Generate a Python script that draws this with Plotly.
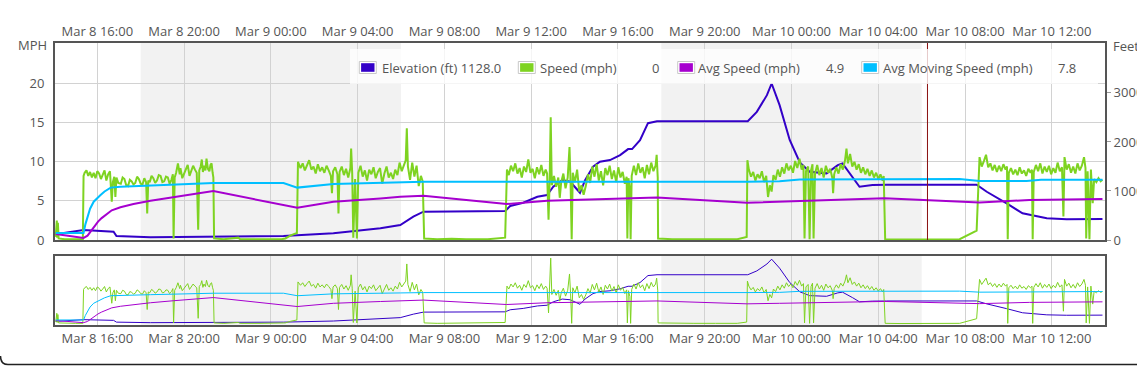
import plotly.graph_objects as go

# ---------------- data ----------------
elev_time = [
    "03-08 14:05", "03-08 15:22", "03-08 16:45", "03-08 16:53", "03-08 18:27", "03-08 21:21",
    "03-09 00:35", "03-09 02:53", "03-09 05:03", "03-09 05:58", "03-09 06:34", "03-09 07:02",
    "03-09 10:48", "03-09 11:02", "03-09 11:38", "03-09 12:17", "03-09 12:44", "03-09 13:01",
    "03-09 13:26", "03-09 13:48", "03-09 14:15", "03-09 14:29", "03-09 14:51", "03-09 15:10",
    "03-09 15:38", "03-09 16:06", "03-09 16:28", "03-09 16:39", "03-09 17:01", "03-09 17:23",
    "03-09 17:48", "03-09 21:59", "03-09 22:24", "03-09 22:52", "03-09 23:05", "03-09 23:27",
    "03-09 23:55", "03-10 00:23", "03-10 00:50", "03-10 01:37", "03-10 02:08", "03-10 02:21",
    "03-10 02:49", "03-10 03:08", "03-10 03:44", "03-10 04:23", "03-10 08:32", "03-10 09:00",
    "03-10 09:55", "03-10 10:39", "03-10 11:46", "03-10 12:41", "03-10 14:20",
]
elev_ft = [
    120, 204, 170, 82, 55, 61,
    82, 136, 238, 305, 475, 577,
    591, 693, 760, 882, 917, 1086,
    1222, 1188, 963, 1222, 1493, 1595,
    1630, 1731, 1854, 1854, 2037, 2383,
    2424, 2424, 2613, 2954, 3192, 2750,
    2040, 1580, 1391, 1359, 1528, 1562,
    1289, 1086, 1120, 1128, 1128, 984,
    748, 544, 442, 422, 428,
]

speed_time = [
    "03-08 14:05", "03-08 14:08", "03-08 14:09", "03-08 14:11", "03-08 14:13", "03-08 14:30", "03-08 15:00", "03-08 15:20", "03-08 15:22", "03-08 15:25",
    "03-08 15:30", "03-08 15:35", "03-08 15:40", "03-08 15:45", "03-08 15:50", "03-08 15:55", "03-08 16:00", "03-08 16:05", "03-08 16:10", "03-08 16:15",
    "03-08 16:20", "03-08 16:25", "03-08 16:30", "03-08 16:35", "03-08 16:40", "03-08 16:43", "03-08 16:47", "03-08 16:50", "03-08 16:53", "03-08 16:58",
    "03-08 17:05", "03-08 17:10", "03-08 17:15", "03-08 17:20", "03-08 17:25", "03-08 17:30", "03-08 17:35", "03-08 17:40", "03-08 17:45", "03-08 17:50",
    "03-08 17:55", "03-08 18:00", "03-08 18:05", "03-08 18:10", "03-08 18:15", "03-08 18:18", "03-08 18:21", "03-08 18:25", "03-08 18:30", "03-08 18:35",
    "03-08 18:40", "03-08 18:45", "03-08 18:50", "03-08 18:55", "03-08 19:00", "03-08 19:05", "03-08 19:10", "03-08 19:15", "03-08 19:20", "03-08 19:25",
    "03-08 19:29", "03-08 19:31", "03-08 19:34", "03-08 19:38", "03-08 19:43", "03-08 19:48", "03-08 19:50", "03-08 19:55", "03-08 20:00", "03-08 20:05",
    "03-08 20:10", "03-08 20:15", "03-08 20:20", "03-08 20:25", "03-08 20:30", "03-08 20:35", "03-08 20:39", "03-08 20:42", "03-08 20:46", "03-08 20:49",
    "03-08 20:52", "03-08 20:55", "03-08 20:59", "03-08 21:02", "03-08 21:06", "03-08 21:10", "03-08 21:13", "03-08 21:16", "03-08 21:19", "03-08 21:21",
    "03-08 21:23", "03-08 21:50", "03-08 22:30", "03-08 22:35", "03-08 23:30", "03-09 00:30", "03-09 00:40", "03-09 00:55", "03-09 01:12", "03-09 01:15",
    "03-09 01:22", "03-09 01:28", "03-09 01:34", "03-09 01:40", "03-09 01:46", "03-09 01:52", "03-09 01:58", "03-09 02:04", "03-09 02:10", "03-09 02:16",
    "03-09 02:22", "03-09 02:28", "03-09 02:34", "03-09 02:40", "03-09 02:46", "03-09 02:49", "03-09 02:52", "03-09 02:58", "03-09 03:04", "03-09 03:07",
    "03-09 03:10", "03-09 03:16", "03-09 03:22", "03-09 03:28", "03-09 03:34", "03-09 03:40", "03-09 03:42", "03-09 03:45", "03-09 03:48", "03-09 03:53",
    "03-09 03:58", "03-09 04:02", "03-09 04:08", "03-09 04:14", "03-09 04:20", "03-09 04:26", "03-09 04:32", "03-09 04:38", "03-09 04:44", "03-09 04:50",
    "03-09 04:56", "03-09 05:02", "03-09 05:08", "03-09 05:14", "03-09 05:20", "03-09 05:26", "03-09 05:32", "03-09 05:38", "03-09 05:44", "03-09 05:50",
    "03-09 05:56", "03-09 06:02", "03-09 06:08", "03-09 06:13", "03-09 06:16", "03-09 06:19", "03-09 06:25", "03-09 06:31", "03-09 06:37", "03-09 06:43",
    "03-09 06:49", "03-09 06:55", "03-09 07:00", "03-09 07:02", "03-09 07:04", "03-09 07:40", "03-09 08:20", "03-09 09:00", "03-09 10:00", "03-09 10:48",
    "03-09 10:53", "03-09 10:58", "03-09 11:04", "03-09 11:10", "03-09 11:16", "03-09 11:22", "03-09 11:28", "03-09 11:34", "03-09 11:40", "03-09 11:46",
    "03-09 11:52", "03-09 11:58", "03-09 12:04", "03-09 12:10", "03-09 12:16", "03-09 12:22", "03-09 12:28", "03-09 12:34", "03-09 12:40", "03-09 12:44",
    "03-09 12:48", "03-09 12:51", "03-09 12:54", "03-09 12:57", "03-09 13:03", "03-09 13:09", "03-09 13:15", "03-09 13:19", "03-09 13:23", "03-09 13:29",
    "03-09 13:35", "03-09 13:41", "03-09 13:46", "03-09 13:49", "03-09 13:52", "03-09 13:55", "03-09 14:01", "03-09 14:07", "03-09 14:13", "03-09 14:19",
    "03-09 14:25", "03-09 14:31", "03-09 14:37", "03-09 14:43", "03-09 14:49", "03-09 14:55", "03-09 15:01", "03-09 15:07", "03-09 15:13", "03-09 15:19",
    "03-09 15:25", "03-09 15:31", "03-09 15:37", "03-09 15:43", "03-09 15:49", "03-09 15:55", "03-09 16:01", "03-09 16:07", "03-09 16:13", "03-09 16:19",
    "03-09 16:24", "03-09 16:26", "03-09 16:29", "03-09 16:33", "03-09 16:35", "03-09 16:38", "03-09 16:44", "03-09 16:50", "03-09 16:56", "03-09 17:02",
    "03-09 17:08", "03-09 17:14", "03-09 17:20", "03-09 17:26", "03-09 17:32", "03-09 17:38", "03-09 17:44", "03-09 17:47", "03-09 17:50", "03-09 17:51",
    "03-09 18:30", "03-09 19:30", "03-09 20:30", "03-09 21:30", "03-09 21:56", "03-09 21:58", "03-09 22:02", "03-09 22:08", "03-09 22:14", "03-09 22:20",
    "03-09 22:26", "03-09 22:32", "03-09 22:38", "03-09 22:44", "03-09 22:50", "03-09 22:55", "03-09 23:00", "03-09 23:05", "03-09 23:10", "03-09 23:16",
    "03-09 23:22", "03-09 23:28", "03-09 23:34", "03-09 23:40", "03-09 23:46", "03-09 23:52", "03-09 23:58", "03-10 00:04", "03-10 00:10", "03-10 00:16",
    "03-10 00:22", "03-10 00:28", "03-10 00:33", "03-10 00:36", "03-10 00:40", "03-10 00:46", "03-10 00:50", "03-10 00:54", "03-10 00:58", "03-10 01:01",
    "03-10 01:05", "03-10 01:11", "03-10 01:17", "03-10 01:23", "03-10 01:29", "03-10 01:35", "03-10 01:41", "03-10 01:47", "03-10 01:53", "03-10 01:55",
    "03-10 01:58", "03-10 02:04", "03-10 02:10", "03-10 02:16", "03-10 02:22", "03-10 02:28", "03-10 02:32", "03-10 02:36", "03-10 02:42", "03-10 02:48",
    "03-10 02:54", "03-10 03:00", "03-10 03:06", "03-10 03:12", "03-10 03:18", "03-10 03:24", "03-10 03:30", "03-10 03:36", "03-10 03:42", "03-10 03:48",
    "03-10 03:54", "03-10 04:00", "03-10 04:06", "03-10 04:12", "03-10 04:15", "03-10 04:17", "03-10 04:19", "03-10 05:00", "03-10 06:16", "03-10 07:00",
    "03-10 07:45", "03-10 08:32", "03-10 08:40", "03-10 08:46", "03-10 08:52", "03-10 08:58", "03-10 09:04", "03-10 09:10", "03-10 09:16", "03-10 09:22",
    "03-10 09:28", "03-10 09:34", "03-10 09:40", "03-10 09:46", "03-10 09:52", "03-10 09:56", "03-10 09:58", "03-10 10:01", "03-10 10:07", "03-10 10:13",
    "03-10 10:19", "03-10 10:25", "03-10 10:31", "03-10 10:37", "03-10 10:43", "03-10 10:49", "03-10 10:55", "03-10 11:01", "03-10 11:05", "03-10 11:07",
    "03-10 11:10", "03-10 11:16", "03-10 11:22", "03-10 11:28", "03-10 11:34", "03-10 11:40", "03-10 11:46", "03-10 11:52", "03-10 11:58", "03-10 12:04",
    "03-10 12:10", "03-10 12:16", "03-10 12:22", "03-10 12:28", "03-10 12:32", "03-10 12:35", "03-10 12:41", "03-10 12:47", "03-10 12:53", "03-10 12:59",
    "03-10 13:05", "03-10 13:11", "03-10 13:17", "03-10 13:23", "03-10 13:29", "03-10 13:33", "03-10 13:35", "03-10 13:39", "03-10 13:44", "03-10 13:48",
    "03-10 13:53", "03-10 13:57", "03-10 14:03", "03-10 14:09", "03-10 14:15", "03-10 14:20",
]
speed_mph = [
    0.4, 2.5, 0.3, 2.2, 0.2, 0.1, 0.1, 0.1, 8.2, 8.6,
    8.9, 8.2, 8.7, 8.0, 8.6, 7.9, 8.8, 8.5, 7.8, 8.3,
    8.9, 7.6, 8.4, 8.8, 4.9, 7.4, 8.1, 5.5, 8.0, 7.3,
    7.2, 8.0, 7.8, 7.0, 6.9, 7.7, 7.5, 7.1, 7.3, 8.1,
    7.8, 7.2, 7.1, 7.9, 7.4, 3.4, 7.6, 7.4, 8.2, 7.9,
    7.3, 7.6, 8.3, 8.2, 7.4, 7.5, 8.1, 8.0, 7.2, 7.7,
    8.4, 0.2, 8.0, 8.6, 9.8, 8.4, 9.2, 7.9, 8.4, 9.1,
    9.6, 8.2, 8.8, 9.5, 9.0, 8.6, 1.3, 8.9, 9.4, 10.3,
    8.7, 9.5, 8.9, 10.4, 9.1, 8.8, 9.6, 9.8, 8.6, 8.0,
    0.2, 0.1, 0.3, 0.1, 0.1, 0.1, 0.2, 0.6, 0.9, 10.0,
    9.2, 9.8, 8.9, 9.6, 10.2, 9.0, 9.4, 8.5, 9.7, 8.8,
    9.3, 8.6, 9.5, 8.9, 8.2, 6.0, 8.8, 9.3, 8.4, 3.4,
    8.7, 9.4, 8.3, 9.1, 8.0, 9.2, 11.7, 8.5, 0.3, 7.8,
    0.2, 8.6, 9.5, 8.1, 8.9, 7.6, 9.0, 8.4, 9.3, 7.9,
    8.7, 9.2, 7.2, 8.5, 9.4, 8.0, 8.6, 7.8, 9.0, 8.3,
    9.9, 8.8, 9.6, 10.2, 14.3, 9.4, 7.7, 9.9, 8.1, 9.5,
    6.9, 8.2, 7.5, 0.3, 0.2, 0.1, 0.15, 0.1, 0.1, 0.3,
    9.0, 8.3, 9.5, 8.8, 9.8, 8.5, 9.2, 8.0, 9.4, 8.7,
    10.3, 8.6, 9.1, 7.9, 9.3, 8.4, 9.6, 8.2, 9.0, 8.5,
    2.6, 7.5, 15.7, 7.0, 8.2, 6.8, 8.0, 5.4, 7.4, 8.5,
    6.6, 8.0, 11.9, 7.2, 0.1, 8.6, 7.4, 9.0, 6.2, 7.0,
    5.8, 6.9, 8.4, 7.3, 9.4, 8.1, 9.7, 7.6, 8.8, 7.0,
    9.2, 8.3, 9.5, 7.8, 8.9, 7.4, 9.3, 8.0, 8.7, 7.2,
    8.1, 0.2, 7.9, 6.5, 0.1, 8.2, 9.5, 8.3, 9.8, 8.6,
    9.3, 7.9, 9.6, 8.4, 9.9, 8.8, 9.5, 10.9, 8.0, 0.2,
    0.1, 0.1, 0.1, 0.1, 0.4, 10.2, 9.0, 8.1, 8.7, 7.6,
    8.4, 7.9, 8.8, 7.4, 8.2, 5.5, 7.0, 6.2, 8.3, 7.7,
    9.0, 8.1, 9.3, 8.5, 9.8, 8.9, 9.5, 8.6, 10.1, 9.2,
    10.4, 9.0, 9.6, 0.2, 8.8, 9.4, 0.1, 8.9, 9.7, 0.2,
    8.5, 9.6, 8.3, 9.2, 8.0, 9.5, 8.6, 9.1, 7.9, 6.0,
    8.4, 9.3, 8.5, 9.7, 9.0, 10.2, 11.7, 9.8, 11.0, 9.4,
    10.0, 9.0, 9.7, 8.6, 9.3, 8.4, 9.1, 8.2, 8.9, 8.0,
    8.6, 7.8, 8.4, 7.6, 8.2, 0.2, 0.1, 0.05, 0.0, 0.05,
    0.1, 1.2, 10.6, 9.4, 10.1, 10.9, 9.3, 9.8, 8.9, 9.6,
    8.7, 9.5, 8.8, 9.7, 9.0, 9.4, 0.1, 8.6, 9.2, 8.4,
    9.0, 8.3, 9.3, 8.5, 8.9, 8.2, 9.1, 8.6, 9.0, 0.1,
    8.7, 9.6, 8.8, 9.8, 8.5, 9.4, 8.7, 9.5, 8.4, 9.2,
    8.6, 9.9, 8.8, 9.3, 3.0, 10.6, 9.0, 9.7, 8.6, 9.4,
    8.5, 9.8, 8.9, 9.5, 10.6, 9.2, 0.2, 8.8, 0.1, 9.0,
    4.7, 7.8, 7.4, 7.9, 7.5, 7.7,
]

avg_time = [
    "03-08 14:05", "03-08 15:22", "03-08 15:33", "03-08 15:42", "03-08 15:52", "03-08 16:02",
    "03-08 16:12", "03-08 16:25", "03-08 16:40", "03-08 17:04", "03-08 17:40", "03-08 18:27",
    "03-08 19:30", "03-08 20:30", "03-08 21:21", "03-09 01:13", "03-09 02:53", "03-09 05:03",
    "03-09 05:58", "03-09 07:02", "03-09 10:52", "03-09 12:44", "03-09 17:48", "03-09 21:57",
    "03-09 23:27", "03-10 04:17", "03-10 08:40", "03-10 10:58", "03-10 14:20",
]
avg_mph = [
    0.77, 0.26, 0.55, 1.15, 1.8, 2.35,
    2.8, 3.3, 3.8, 4.18, 4.6, 5.02,
    5.5, 5.95, 6.26, 4.12, 4.89, 5.32,
    5.53, 5.66, 4.6, 5.02, 5.45, 4.76,
    4.89, 5.33, 4.81, 5.11, 5.24,
]

moving_time = [
    "03-08 14:05", "03-08 15:22", "03-08 15:27", "03-08 15:33", "03-08 15:40", "03-08 15:50",
    "03-08 16:00", "03-08 16:09", "03-08 16:20", "03-08 16:37", "03-08 17:04", "03-08 18:27",
    "03-08 21:21", "03-09 00:35", "03-09 01:13", "03-09 02:53", "03-09 05:58", "03-09 07:02",
    "03-09 21:57", "03-09 23:27", "03-10 00:23", "03-10 07:45", "03-10 08:40", "03-10 10:50",
    "03-10 11:30", "03-10 14:20",
]
moving_mph = [
    0.9, 0.9, 2.0, 3.0, 4.0, 4.9,
    5.4, 5.75, 6.2, 6.7, 6.8, 6.95,
    7.3, 7.3, 6.7, 7.15, 7.37, 7.45,
    7.45, 7.5, 7.75, 7.8, 7.55, 7.55,
    7.7, 7.7,
]

night_start = ["03-08 18:00", "03-09 18:00"]
night_end = ["03-09 06:00", "03-10 06:00"]
cursor_time = "03-10 06:16"

legend_labels = ["Elevation (ft) 1128.0", "Speed (mph)", "Avg Speed (mph)", "Avg Moving Speed (mph)"]
legend_values = ["", "0", "4.9", "7.8"]

mph_ticks = [0, 5, 10, 15, 20]
feet_ticks = [0, 1000, 2000, 3000]
x_range = ["03-08 14:03", "03-10 14:27"]
assert len(speed_time) == len(speed_mph)
assert len(elev_time) == len(elev_ft)
assert len(avg_time) == len(avg_mph)
assert len(moving_time) == len(moving_mph)

# ---------------- styling ----------------
YEAR = "2024-"
def ts(lst):
    return [YEAR + s for s in lst]

FONT = "Open Sans"
TXT = "#555555"
GRID = "#d2d2d2"
BORDER = "#555555"
SHADE = "#f2f2f2"
C_ELEV = "#3300c8"
C_SPEED = "#7ed321"
C_AVG = "#a600cf"
C_MOV = "#00bfff"
colors = [C_ELEV, C_SPEED, C_AVG, C_MOV]

W, H = 1137, 382
ML, MR, MT, MB = 55, 32, 43, 57
PW, PH = W - ML - MR, H - MT - MB

def px(x):
    return (x - ML) / PW

def py(y):
    return (H - MB - y) / PH

main_bottom = py(240)
slider_top = py(256)

fig = go.Figure()

# main panel: yaxis = feet (right), yaxis2 = mph (left, overlay)
fig.add_trace(go.Scatter(x=ts(elev_time), y=elev_ft, xaxis="x", yaxis="y",
                         mode="lines", line=dict(color=C_ELEV, width=2)))
fig.add_trace(go.Scatter(x=ts(speed_time), y=speed_mph, xaxis="x", yaxis="y2",
                         mode="lines", line=dict(color=C_SPEED, width=2)))
fig.add_trace(go.Scatter(x=ts(avg_time), y=avg_mph, xaxis="x", yaxis="y2",
                         mode="lines", line=dict(color=C_AVG, width=2)))
fig.add_trace(go.Scatter(x=ts(moving_time), y=moving_mph, xaxis="x", yaxis="y2",
                         mode="lines", line=dict(color=C_MOV, width=2)))

# overview panel
fig.add_trace(go.Scatter(x=ts(elev_time), y=elev_ft, xaxis="x2", yaxis="y3",
                         mode="lines", line=dict(color=C_ELEV, width=1)))
fig.add_trace(go.Scatter(x=ts(speed_time), y=speed_mph, xaxis="x2", yaxis="y4",
                         mode="lines", line=dict(color=C_SPEED, width=1)))
fig.add_trace(go.Scatter(x=ts(avg_time), y=avg_mph, xaxis="x2", yaxis="y4",
                         mode="lines", line=dict(color=C_AVG, width=1)))
fig.add_trace(go.Scatter(x=ts(moving_time), y=moving_mph, xaxis="x2", yaxis="y4",
                         mode="lines", line=dict(color=C_MOV, width=1)))

tick_font = dict(family=FONT, size=13, color=TXT)
xcommon = dict(type="date", range=ts(x_range), tick0="2024-03-08 00:00", dtick=4 * 3600 * 1000,
               tickformat="%b %-d %H:%M", showgrid=True, gridcolor=GRID, gridwidth=1,
               showline=True, linecolor=BORDER, linewidth=2, mirror=True, ticks="",
               tickfont=tick_font, zeroline=False, fixedrange=True, automargin=False)

shapes = []
for s, e in zip(night_start, night_end):
    for xref, yref in (("x", "y domain"), ("x2", "y3 domain")):
        shapes.append(dict(type="rect", xref=xref, yref=yref,
                           x0=YEAR + s, x1=YEAR + e, y0=0, y1=1, fillcolor=SHADE,
                           line=dict(width=0), layer="below"))
shapes.append(dict(type="line", xref="x", yref="y domain", x0=YEAR + cursor_time, x1=YEAR + cursor_time,
                   y0=0, y1=1, line=dict(color="#8a1010", width=1), layer="above"))
# legend box
shapes.append(dict(type="rect", xref="paper", yref="paper", x0=px(350), x1=px(1098), y0=py(84), y1=py(49),
                   fillcolor="rgba(255,255,255,0.78)", line=dict(width=0), layer="above"))

sq_left = [359.3, 518.3, 677.7, 861.7]
lab_left = [382, 540, 698.3, 882.7]
val_right = [None, 659, 844, 1076]
annotations = []
for i in range(4):
    shapes.append(dict(type="rect", xref="paper", yref="paper", x0=px(sq_left[i]), x1=px(sq_left[i] + 17),
                       y0=py(73.5), y1=py(61.5), fillcolor="white", line=dict(color="#c8c8c8", width=1),
                       layer="above"))
    shapes.append(dict(type="rect", xref="paper", yref="paper", x0=px(sq_left[i] + 1.8), x1=px(sq_left[i] + 15.2),
                       y0=py(71.8), y1=py(63.2), fillcolor=colors[i], line=dict(width=0), layer="above"))
    annotations.append(dict(xref="paper", yref="paper", x=px(lab_left[i] - 2), y=py(67.5), xanchor="left",
                            yanchor="middle", text=legend_labels[i], showarrow=False,
                            font=dict(family=FONT, size=13, color=TXT)))
    if legend_values[i]:
        annotations.append(dict(xref="paper", yref="paper", x=px(val_right[i] + 2), y=py(67.5), xanchor="right",
                                yanchor="middle", text=legend_values[i], showarrow=False,
                                font=dict(family=FONT, size=13, color=TXT)))

annotations.append(dict(xref="paper", yref="paper", x=px(49), y=py(45), xanchor="right", yanchor="middle",
                        text="MPH", showarrow=False, font=dict(family=FONT, size=13, color=TXT)))
annotations.append(dict(xref="paper", yref="paper", x=px(1111), y=py(46), xanchor="left", yanchor="middle",
                        text="Feet", showarrow=False, font=dict(family=FONT, size=13, color=TXT)))

# container bottom border with rounded corner
shapes.append(dict(type="path", xref="paper", yref="paper",
                   path=f"M {px(0.5)},{py(356)} Q {px(0.5)},{py(364.5)} {px(8)},{py(364.5)} L {px(1137)},{py(364.5)}",
                   line=dict(color="#222222", width=1.5), layer="above"))

fig.update_layout(
    width=W, height=H,
    margin=dict(l=ML, r=MR, t=MT, b=MB, pad=0, autoexpand=False),
    paper_bgcolor="white", plot_bgcolor="white",
    showlegend=False, hovermode=False,
    font=dict(family=FONT, size=13, color=TXT),
    xaxis=dict(domain=[0, 1], anchor="y", side="top", **xcommon),
    xaxis2=dict(domain=[0, 1], anchor="y3", side="bottom", **xcommon),
    yaxis=dict(domain=[main_bottom, 1], anchor="x", side="right", range=[0, 4018],
               tickmode="array", tickvals=feet_ticks,
               showgrid=False, zeroline=False, showline=True, linecolor=BORDER, linewidth=2, mirror=True,
               ticks="outside", ticklen=4, tickcolor="#999999", tickfont=tick_font, fixedrange=True,
               automargin=False),
    yaxis2=dict(overlaying="y", anchor="x", side="left", range=[0, 25.2],
                tickmode="array", tickvals=mph_ticks,
                showgrid=True, gridcolor=GRID, zeroline=False, showline=True, linecolor=BORDER, linewidth=2,
                ticks="", tickfont=tick_font, ticklabelstandoff=6, fixedrange=True, automargin=False),
    yaxis3=dict(domain=[0, slider_top], anchor="x2", range=[-60, 3350], showgrid=False, zeroline=False,
                showticklabels=False, ticks="", showline=True, linecolor=BORDER, linewidth=2, mirror=True,
                fixedrange=True, automargin=False),
    yaxis4=dict(overlaying="y3", anchor="x2", range=[-0.3, 16.2], showgrid=False, zeroline=False,
                showticklabels=False, ticks="", fixedrange=True, automargin=False),
    shapes=shapes,
    annotations=annotations,
)

# remove the browser's default 8px page margin so the figure sits at the window's top-left corner
fig.write_html("out.html", config={"displayModeBar": False},
               post_script="document.body.style.margin='0';")
